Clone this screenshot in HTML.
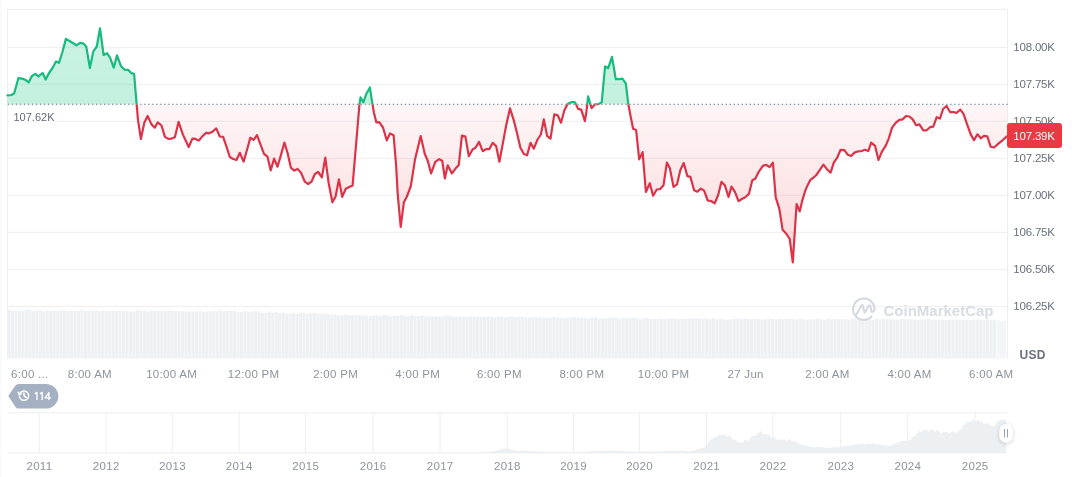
<!DOCTYPE html>
<html><head><meta charset="utf-8"><style>
html,body{margin:0;padding:0;background:#fff;width:1072px;height:477px;overflow:hidden}
svg{display:block;will-change:transform}
text{font-family:"Liberation Sans",sans-serif}
</style></head><body>
<svg width="1072" height="477" viewBox="0 0 1072 477">
<defs>
<clipPath id="above"><rect x="0" y="0" width="1072" height="104.4"/></clipPath>
<clipPath id="below"><rect x="0" y="104.4" width="1072" height="372.6"/></clipPath>
<linearGradient id="gfill" x1="0" y1="28" x2="0" y2="104.4" gradientUnits="userSpaceOnUse">
<stop offset="0" stop-color="#16c784" stop-opacity="0.22"/>
<stop offset="1" stop-color="#16c784" stop-opacity="0.26"/>
</linearGradient>
<linearGradient id="rfill" x1="0" y1="104.4" x2="0" y2="263" gradientUnits="userSpaceOnUse">
<stop offset="0" stop-color="#ea3943" stop-opacity="0.045"/>
<stop offset="1" stop-color="#ea3943" stop-opacity="0.2"/>
</linearGradient>
<filter id="sh" x="-50%" y="-50%" width="200%" height="200%"><feDropShadow dx="0" dy="1" stdDeviation="2" flood-color="#000" flood-opacity="0.2"/></filter>
</defs>

<line x1="1" y1="0" x2="1" y2="477" stroke="#f6f7f9" stroke-width="1"/>
<line x1="7.5" y1="9.4" x2="1007.5" y2="9.4" stroke="#eeeeef" stroke-width="1"/>
<line x1="7.5" y1="47.3" x2="1007.5" y2="47.3" stroke="#eeeeef" stroke-width="1"/>
<line x1="7.5" y1="84.3" x2="1007.5" y2="84.3" stroke="#eeeeef" stroke-width="1"/>
<line x1="7.5" y1="121.3" x2="1007.5" y2="121.3" stroke="#eeeeef" stroke-width="1"/>
<line x1="7.5" y1="158.3" x2="1007.5" y2="158.3" stroke="#eeeeef" stroke-width="1"/>
<line x1="7.5" y1="195.3" x2="1007.5" y2="195.3" stroke="#eeeeef" stroke-width="1"/>
<line x1="7.5" y1="232.3" x2="1007.5" y2="232.3" stroke="#eeeeef" stroke-width="1"/>
<line x1="7.5" y1="269.3" x2="1007.5" y2="269.3" stroke="#eeeeef" stroke-width="1"/>
<line x1="7.5" y1="306.3" x2="1007.5" y2="306.3" stroke="#eeeeef" stroke-width="1"/>
<line x1="7.5" y1="9.4" x2="7.5" y2="358.4" stroke="#eeeeef" stroke-width="1"/>
<line x1="1007.5" y1="9.4" x2="1007.5" y2="358.4" stroke="#eeeeef" stroke-width="1"/>
<path d="M7.50,310.1h3.12V358.4h-3.12ZM10.97,310.6h3.12V358.4h-3.12ZM14.44,310.3h3.12V358.4h-3.12ZM17.91,310.7h3.12V358.4h-3.12ZM21.38,310.7h3.12V358.4h-3.12ZM24.85,309.9h3.12V358.4h-3.12ZM28.32,309.9h3.12V358.4h-3.12ZM31.79,311.0h3.12V358.4h-3.12ZM35.26,310.2h3.12V358.4h-3.12ZM38.73,310.2h3.12V358.4h-3.12ZM42.20,311.3h3.12V358.4h-3.12ZM45.67,310.5h3.12V358.4h-3.12ZM49.14,311.1h3.12V358.4h-3.12ZM52.61,310.6h3.12V358.4h-3.12ZM56.08,310.8h3.12V358.4h-3.12ZM59.55,310.1h3.12V358.4h-3.12ZM63.02,310.8h3.12V358.4h-3.12ZM66.49,311.1h3.12V358.4h-3.12ZM69.96,310.7h3.12V358.4h-3.12ZM73.43,311.0h3.12V358.4h-3.12ZM76.90,310.9h3.12V358.4h-3.12ZM80.37,310.1h3.12V358.4h-3.12ZM83.84,311.0h3.12V358.4h-3.12ZM87.31,310.8h3.12V358.4h-3.12ZM90.78,310.4h3.12V358.4h-3.12ZM94.25,310.0h3.12V358.4h-3.12ZM97.72,311.2h3.12V358.4h-3.12ZM101.19,310.7h3.12V358.4h-3.12ZM104.66,311.0h3.12V358.4h-3.12ZM108.13,311.3h3.12V358.4h-3.12ZM111.60,311.0h3.12V358.4h-3.12ZM115.07,311.3h3.12V358.4h-3.12ZM118.54,310.6h3.12V358.4h-3.12ZM122.01,311.2h3.12V358.4h-3.12ZM125.48,310.7h3.12V358.4h-3.12ZM128.95,311.4h3.12V358.4h-3.12ZM132.42,311.3h3.12V358.4h-3.12ZM135.89,310.2h3.12V358.4h-3.12ZM139.36,310.3h3.12V358.4h-3.12ZM142.83,310.4h3.12V358.4h-3.12ZM146.30,311.5h3.12V358.4h-3.12ZM149.77,310.7h3.12V358.4h-3.12ZM153.24,311.0h3.12V358.4h-3.12ZM156.71,310.6h3.12V358.4h-3.12ZM160.18,310.9h3.12V358.4h-3.12ZM163.65,310.7h3.12V358.4h-3.12ZM167.12,310.6h3.12V358.4h-3.12ZM170.59,311.0h3.12V358.4h-3.12ZM174.06,311.0h3.12V358.4h-3.12ZM177.53,311.4h3.12V358.4h-3.12ZM181.00,311.1h3.12V358.4h-3.12ZM184.47,311.5h3.12V358.4h-3.12ZM187.94,311.4h3.12V358.4h-3.12ZM191.41,311.6h3.12V358.4h-3.12ZM194.88,311.2h3.12V358.4h-3.12ZM198.35,310.5h3.12V358.4h-3.12ZM201.82,311.4h3.12V358.4h-3.12ZM205.29,311.6h3.12V358.4h-3.12ZM208.76,311.5h3.12V358.4h-3.12ZM212.23,311.1h3.12V358.4h-3.12ZM215.70,311.3h3.12V358.4h-3.12ZM219.17,310.6h3.12V358.4h-3.12ZM222.64,311.4h3.12V358.4h-3.12ZM226.11,311.1h3.12V358.4h-3.12ZM229.58,310.7h3.12V358.4h-3.12ZM233.05,310.5h3.12V358.4h-3.12ZM236.52,311.7h3.12V358.4h-3.12ZM239.99,312.0h3.12V358.4h-3.12ZM243.46,310.9h3.12V358.4h-3.12ZM246.93,312.0h3.12V358.4h-3.12ZM250.40,311.6h3.12V358.4h-3.12ZM253.87,311.3h3.12V358.4h-3.12ZM257.34,311.6h3.12V358.4h-3.12ZM260.81,312.4h3.12V358.4h-3.12ZM264.28,312.7h3.12V358.4h-3.12ZM267.75,311.6h3.12V358.4h-3.12ZM271.22,312.5h3.12V358.4h-3.12ZM274.69,311.9h3.12V358.4h-3.12ZM278.16,312.9h3.12V358.4h-3.12ZM281.63,312.5h3.12V358.4h-3.12ZM285.10,313.4h3.12V358.4h-3.12ZM288.57,313.6h3.12V358.4h-3.12ZM292.04,313.1h3.12V358.4h-3.12ZM295.51,313.9h3.12V358.4h-3.12ZM298.98,313.0h3.12V358.4h-3.12ZM302.45,312.8h3.12V358.4h-3.12ZM305.92,313.7h3.12V358.4h-3.12ZM309.39,313.0h3.12V358.4h-3.12ZM312.86,313.3h3.12V358.4h-3.12ZM316.33,313.7h3.12V358.4h-3.12ZM319.80,314.1h3.12V358.4h-3.12ZM323.27,313.6h3.12V358.4h-3.12ZM326.74,313.6h3.12V358.4h-3.12ZM330.21,314.9h3.12V358.4h-3.12ZM333.68,314.2h3.12V358.4h-3.12ZM337.15,315.2h3.12V358.4h-3.12ZM340.62,315.2h3.12V358.4h-3.12ZM344.09,314.6h3.12V358.4h-3.12ZM347.56,314.9h3.12V358.4h-3.12ZM351.03,315.0h3.12V358.4h-3.12ZM354.50,315.3h3.12V358.4h-3.12ZM357.97,315.2h3.12V358.4h-3.12ZM361.44,315.2h3.12V358.4h-3.12ZM364.91,315.4h3.12V358.4h-3.12ZM368.38,315.9h3.12V358.4h-3.12ZM371.85,315.3h3.12V358.4h-3.12ZM375.32,315.2h3.12V358.4h-3.12ZM378.79,315.7h3.12V358.4h-3.12ZM382.26,315.1h3.12V358.4h-3.12ZM385.73,315.2h3.12V358.4h-3.12ZM389.20,316.2h3.12V358.4h-3.12ZM392.67,315.6h3.12V358.4h-3.12ZM396.14,315.7h3.12V358.4h-3.12ZM399.61,315.0h3.12V358.4h-3.12ZM403.08,315.6h3.12V358.4h-3.12ZM406.55,315.9h3.12V358.4h-3.12ZM410.02,315.1h3.12V358.4h-3.12ZM413.49,316.0h3.12V358.4h-3.12ZM416.96,316.1h3.12V358.4h-3.12ZM420.43,315.3h3.12V358.4h-3.12ZM423.90,316.2h3.12V358.4h-3.12ZM427.37,316.0h3.12V358.4h-3.12ZM430.84,316.3h3.12V358.4h-3.12ZM434.31,315.9h3.12V358.4h-3.12ZM437.78,316.4h3.12V358.4h-3.12ZM441.25,316.5h3.12V358.4h-3.12ZM444.72,315.6h3.12V358.4h-3.12ZM448.19,315.7h3.12V358.4h-3.12ZM451.66,316.6h3.12V358.4h-3.12ZM455.13,317.0h3.12V358.4h-3.12ZM458.60,316.1h3.12V358.4h-3.12ZM462.07,316.4h3.12V358.4h-3.12ZM465.54,316.7h3.12V358.4h-3.12ZM469.01,316.3h3.12V358.4h-3.12ZM472.48,316.4h3.12V358.4h-3.12ZM475.95,316.4h3.12V358.4h-3.12ZM479.42,316.5h3.12V358.4h-3.12ZM482.89,316.9h3.12V358.4h-3.12ZM486.36,316.5h3.12V358.4h-3.12ZM489.83,316.7h3.12V358.4h-3.12ZM493.30,317.3h3.12V358.4h-3.12ZM496.77,316.3h3.12V358.4h-3.12ZM500.24,317.1h3.12V358.4h-3.12ZM503.71,317.4h3.12V358.4h-3.12ZM507.18,316.8h3.12V358.4h-3.12ZM510.65,316.7h3.12V358.4h-3.12ZM514.12,317.6h3.12V358.4h-3.12ZM517.59,316.8h3.12V358.4h-3.12ZM521.06,316.8h3.12V358.4h-3.12ZM524.53,317.2h3.12V358.4h-3.12ZM528.00,317.6h3.12V358.4h-3.12ZM531.47,316.8h3.12V358.4h-3.12ZM534.94,317.2h3.12V358.4h-3.12ZM538.41,317.2h3.12V358.4h-3.12ZM541.88,318.0h3.12V358.4h-3.12ZM545.35,317.5h3.12V358.4h-3.12ZM548.82,318.1h3.12V358.4h-3.12ZM552.29,317.1h3.12V358.4h-3.12ZM555.76,317.4h3.12V358.4h-3.12ZM559.23,317.9h3.12V358.4h-3.12ZM562.70,318.2h3.12V358.4h-3.12ZM566.17,317.6h3.12V358.4h-3.12ZM569.64,317.4h3.12V358.4h-3.12ZM573.11,317.2h3.12V358.4h-3.12ZM576.58,317.8h3.12V358.4h-3.12ZM580.05,317.4h3.12V358.4h-3.12ZM583.52,318.3h3.12V358.4h-3.12ZM586.99,318.4h3.12V358.4h-3.12ZM590.46,317.5h3.12V358.4h-3.12ZM593.93,317.6h3.12V358.4h-3.12ZM597.40,318.4h3.12V358.4h-3.12ZM600.87,318.2h3.12V358.4h-3.12ZM604.34,318.5h3.12V358.4h-3.12ZM607.81,317.8h3.12V358.4h-3.12ZM611.28,317.6h3.12V358.4h-3.12ZM614.75,317.8h3.12V358.4h-3.12ZM618.22,318.5h3.12V358.4h-3.12ZM621.69,317.8h3.12V358.4h-3.12ZM625.16,318.0h3.12V358.4h-3.12ZM628.63,318.1h3.12V358.4h-3.12ZM632.10,318.1h3.12V358.4h-3.12ZM635.57,318.1h3.12V358.4h-3.12ZM639.04,318.9h3.12V358.4h-3.12ZM642.51,317.9h3.12V358.4h-3.12ZM645.98,317.7h3.12V358.4h-3.12ZM649.45,319.0h3.12V358.4h-3.12ZM652.92,318.9h3.12V358.4h-3.12ZM656.39,319.1h3.12V358.4h-3.12ZM659.86,318.4h3.12V358.4h-3.12ZM663.33,319.1h3.12V358.4h-3.12ZM666.80,319.1h3.12V358.4h-3.12ZM670.27,318.2h3.12V358.4h-3.12ZM673.74,318.9h3.12V358.4h-3.12ZM677.21,319.1h3.12V358.4h-3.12ZM680.68,318.9h3.12V358.4h-3.12ZM684.15,318.7h3.12V358.4h-3.12ZM687.62,318.4h3.12V358.4h-3.12ZM691.09,318.5h3.12V358.4h-3.12ZM694.56,318.4h3.12V358.4h-3.12ZM698.03,318.2h3.12V358.4h-3.12ZM701.50,318.9h3.12V358.4h-3.12ZM704.97,318.5h3.12V358.4h-3.12ZM708.44,319.3h3.12V358.4h-3.12ZM711.91,318.2h3.12V358.4h-3.12ZM715.38,319.4h3.12V358.4h-3.12ZM718.85,319.1h3.12V358.4h-3.12ZM722.32,319.5h3.12V358.4h-3.12ZM725.79,319.4h3.12V358.4h-3.12ZM729.26,319.5h3.12V358.4h-3.12ZM732.73,319.0h3.12V358.4h-3.12ZM736.20,318.2h3.12V358.4h-3.12ZM739.67,319.3h3.12V358.4h-3.12ZM743.14,318.5h3.12V358.4h-3.12ZM746.61,318.7h3.12V358.4h-3.12ZM750.08,319.2h3.12V358.4h-3.12ZM753.55,319.0h3.12V358.4h-3.12ZM757.02,318.9h3.12V358.4h-3.12ZM760.49,319.6h3.12V358.4h-3.12ZM763.96,319.2h3.12V358.4h-3.12ZM767.43,318.8h3.12V358.4h-3.12ZM770.90,318.7h3.12V358.4h-3.12ZM774.37,319.6h3.12V358.4h-3.12ZM777.84,319.0h3.12V358.4h-3.12ZM781.31,319.5h3.12V358.4h-3.12ZM784.78,318.9h3.12V358.4h-3.12ZM788.25,318.7h3.12V358.4h-3.12ZM791.72,319.2h3.12V358.4h-3.12ZM795.19,319.6h3.12V358.4h-3.12ZM798.66,318.7h3.12V358.4h-3.12ZM802.13,319.5h3.12V358.4h-3.12ZM805.60,319.7h3.12V358.4h-3.12ZM809.07,319.6h3.12V358.4h-3.12ZM812.54,319.6h3.12V358.4h-3.12ZM816.01,318.5h3.12V358.4h-3.12ZM819.48,319.4h3.12V358.4h-3.12ZM822.95,319.7h3.12V358.4h-3.12ZM826.42,318.6h3.12V358.4h-3.12ZM829.89,318.9h3.12V358.4h-3.12ZM833.36,318.9h3.12V358.4h-3.12ZM836.83,319.3h3.12V358.4h-3.12ZM840.30,319.2h3.12V358.4h-3.12ZM843.77,319.2h3.12V358.4h-3.12ZM847.24,319.7h3.12V358.4h-3.12ZM850.71,318.6h3.12V358.4h-3.12ZM854.18,318.7h3.12V358.4h-3.12ZM857.65,318.8h3.12V358.4h-3.12ZM861.12,318.8h3.12V358.4h-3.12ZM864.59,318.7h3.12V358.4h-3.12ZM868.06,320.0h3.12V358.4h-3.12ZM871.53,319.9h3.12V358.4h-3.12ZM875.00,318.8h3.12V358.4h-3.12ZM878.47,319.4h3.12V358.4h-3.12ZM881.94,319.1h3.12V358.4h-3.12ZM885.41,319.2h3.12V358.4h-3.12ZM888.88,319.2h3.12V358.4h-3.12ZM892.35,319.6h3.12V358.4h-3.12ZM895.82,319.6h3.12V358.4h-3.12ZM899.29,319.3h3.12V358.4h-3.12ZM902.76,319.0h3.12V358.4h-3.12ZM906.23,319.2h3.12V358.4h-3.12ZM909.70,319.0h3.12V358.4h-3.12ZM913.17,319.6h3.12V358.4h-3.12ZM916.64,319.8h3.12V358.4h-3.12ZM920.11,319.4h3.12V358.4h-3.12ZM923.58,319.0h3.12V358.4h-3.12ZM927.05,319.1h3.12V358.4h-3.12ZM930.52,319.4h3.12V358.4h-3.12ZM933.99,319.7h3.12V358.4h-3.12ZM937.46,320.0h3.12V358.4h-3.12ZM940.93,319.4h3.12V358.4h-3.12ZM944.40,320.0h3.12V358.4h-3.12ZM947.87,319.8h3.12V358.4h-3.12ZM951.34,319.5h3.12V358.4h-3.12ZM954.81,319.5h3.12V358.4h-3.12ZM958.28,319.7h3.12V358.4h-3.12ZM961.75,320.0h3.12V358.4h-3.12ZM965.22,319.6h3.12V358.4h-3.12ZM968.69,320.0h3.12V358.4h-3.12ZM972.16,319.7h3.12V358.4h-3.12ZM975.63,319.4h3.12V358.4h-3.12ZM979.10,319.8h3.12V358.4h-3.12ZM982.57,320.0h3.12V358.4h-3.12ZM986.04,319.2h3.12V358.4h-3.12ZM989.51,319.7h3.12V358.4h-3.12ZM992.98,319.7h3.12V358.4h-3.12Z" fill="#eef1f4"/>
<path d="M997,320.5h9V358.4h-9Z" fill="#f3f5f8"/>
<path d="M7.5,104.4 L7.5,95.4 L11.5,95.0 L14.2,93.3 L18.4,78.2 L22.0,78.6 L25.1,79.7 L28.7,82.4 L31.8,76.1 L35.2,73.8 L38.5,76.3 L42.6,73.0 L45.7,79.5 L49.0,73.0 L52.5,68.0 L56.0,61.5 L58.9,62.8 L62.3,52.5 L65.9,38.9 L71.2,42.0 L76.5,45.3 L80.0,42.9 L83.7,43.6 L86.3,46.8 L89.9,68.0 L93.3,51.4 L96.8,46.5 L100.0,28.3 L103.6,55.0 L107.0,53.2 L110.2,57.8 L113.7,67.7 L117.0,55.4 L121.0,66.2 L124.6,69.6 L128.0,69.8 L131.2,73.1 L134.1,73.8 L136.6,103.8 L138.0,120.2 L140.9,139.0 L144.3,122.7 L147.6,116.0 L151.5,124.4 L154.8,127.7 L157.7,122.3 L161.5,125.5 L164.9,136.9 L168.2,138.9 L171.6,138.6 L174.9,137.3 L178.6,121.8 L182.8,134.4 L188.7,147.0 L192.4,138.6 L195.4,138.9 L198.8,140.6 L202.5,136.1 L206.3,132.7 L208.4,133.5 L212.5,131.8 L216.2,128.4 L219.8,136.5 L223.1,136.8 L226.5,146.6 L229.8,157.0 L233.2,159.0 L236.5,160.0 L239.9,152.8 L243.6,161.7 L246.9,150.3 L250.3,137.7 L253.6,139.9 L257.0,135.2 L260.7,145.2 L264.0,153.9 L267.4,156.6 L270.7,170.4 L274.1,158.6 L277.5,166.7 L280.8,155.6 L284.4,142.6 L287.5,152.7 L290.9,167.8 L294.3,170.6 L297.6,168.9 L301.0,172.8 L304.8,181.7 L308.2,184.0 L311.5,181.7 L314.9,174.0 L318.2,172.0 L321.9,177.3 L325.3,157.7 L328.6,182.9 L332.4,202.3 L335.6,196.5 L338.9,179.4 L342.2,196.9 L345.8,188.8 L349.2,187.0 L352.6,185.6 L359.5,103.9 L360.5,97.3 L363.3,102.3 L366.4,93.8 L369.9,87.5 L372.4,103.9 L373.9,112.7 L376.4,122.5 L379.2,122.1 L383.0,127.5 L386.8,140.4 L390.0,133.5 L393.6,135.3 L396.1,165.3 L397.7,194.2 L400.7,226.9 L403.9,202.2 L406.9,196.5 L410.8,186.1 L415.0,159.6 L420.7,136.1 L424.7,153.8 L427.7,160.7 L431.1,173.4 L435.3,161.9 L439.2,159.1 L442.2,160.7 L444.9,178.5 L447.7,165.3 L451.9,173.4 L455.3,168.8 L458.8,164.9 L461.9,135.6 L465.4,136.6 L468.8,156.2 L472.6,149.5 L475.5,147.8 L479.0,141.9 L482.7,151.2 L486.0,149.1 L489.4,149.1 L492.7,142.8 L496.1,146.1 L499.4,161.7 L502.8,143.6 L506.2,125.2 L510.0,108.4 L513.7,120.1 L517.1,133.5 L520.4,147.8 L523.8,154.0 L527.1,155.3 L530.5,142.8 L533.8,148.6 L537.5,139.5 L540.9,134.5 L543.8,119.4 L547.1,135.8 L550.5,138.7 L554.3,114.4 L557.7,115.2 L561.0,122.7 L564.4,110.2 L567.6,103.9 L570.2,102.6 L572.5,102.0 L574.6,102.0 L576.0,104.4 L578.1,108.9 L581.2,109.6 L584.9,121.2 L586.5,111.2 L588.1,96.3 L590.0,102.8 L591.7,108.1 L594.9,104.4 L598.5,104.1 L601.7,102.3 L605.1,66.4 L608.2,68.2 L612.0,56.9 L615.8,79.2 L618.6,79.2 L622.4,78.7 L625.8,83.3 L628.3,104.1 L630.8,117.3 L633.1,128.8 L636.1,130.0 L639.2,159.3 L642.6,152.1 L645.9,192.0 L649.8,183.3 L653.1,195.7 L656.8,189.5 L660.2,189.0 L663.5,185.3 L666.9,162.6 L669.9,168.5 L673.6,187.0 L677.0,184.4 L680.3,170.2 L683.7,163.1 L687.4,176.1 L690.4,176.9 L694.1,190.3 L697.4,191.7 L700.8,188.6 L704.1,190.6 L707.7,200.5 L711.4,201.2 L714.7,203.3 L718.1,195.3 L721.4,181.9 L724.8,185.2 L728.5,197.0 L731.5,186.6 L734.9,191.9 L738.5,201.2 L741.9,199.0 L745.3,197.3 L748.9,193.9 L752.3,180.2 L755.3,178.8 L758.7,171.8 L762.9,165.9 L766.2,164.8 L769.6,167.1 L772.9,162.6 L775.7,197.3 L779.3,208.6 L782.6,229.8 L786.5,234.0 L789.7,239.0 L792.8,262.4 L796.6,204.0 L799.7,211.4 L802.3,200.6 L804.9,191.7 L807.5,185.4 L810.2,180.2 L812.8,178.1 L815.9,175.5 L819.2,170.8 L823.4,164.6 L826.9,169.2 L830.6,172.6 L833.8,162.7 L837.2,157.7 L840.6,149.8 L844.4,150.1 L847.8,154.8 L851.1,156.0 L854.5,152.6 L858.3,151.3 L861.7,151.0 L865.0,149.8 L868.4,151.0 L871.2,142.6 L875.1,145.9 L878.5,159.9 L881.8,151.8 L885.9,145.3 L888.7,138.6 L892.1,127.7 L895.9,122.7 L899.3,119.9 L902.6,119.4 L906.0,116.0 L909.4,116.5 L912.7,119.4 L916.1,125.2 L919.4,124.4 L923.3,130.3 L926.6,130.3 L930.0,127.2 L933.3,126.6 L936.7,117.2 L940.0,118.5 L943.1,109.0 L946.5,106.0 L950.2,112.2 L953.6,112.2 L956.7,112.8 L960.3,109.6 L963.5,113.8 L967.1,124.4 L970.8,134.6 L974.0,140.2 L977.4,134.3 L980.8,138.3 L984.0,135.8 L987.3,136.4 L990.6,146.7 L994.0,147.5 L998.7,143.4 L1003.1,139.8 L1007.2,136.1 L1007.2,104.4 Z" fill="url(#gfill)" clip-path="url(#above)"/>
<path d="M7.5,104.4 L7.5,95.4 L11.5,95.0 L14.2,93.3 L18.4,78.2 L22.0,78.6 L25.1,79.7 L28.7,82.4 L31.8,76.1 L35.2,73.8 L38.5,76.3 L42.6,73.0 L45.7,79.5 L49.0,73.0 L52.5,68.0 L56.0,61.5 L58.9,62.8 L62.3,52.5 L65.9,38.9 L71.2,42.0 L76.5,45.3 L80.0,42.9 L83.7,43.6 L86.3,46.8 L89.9,68.0 L93.3,51.4 L96.8,46.5 L100.0,28.3 L103.6,55.0 L107.0,53.2 L110.2,57.8 L113.7,67.7 L117.0,55.4 L121.0,66.2 L124.6,69.6 L128.0,69.8 L131.2,73.1 L134.1,73.8 L136.6,103.8 L138.0,120.2 L140.9,139.0 L144.3,122.7 L147.6,116.0 L151.5,124.4 L154.8,127.7 L157.7,122.3 L161.5,125.5 L164.9,136.9 L168.2,138.9 L171.6,138.6 L174.9,137.3 L178.6,121.8 L182.8,134.4 L188.7,147.0 L192.4,138.6 L195.4,138.9 L198.8,140.6 L202.5,136.1 L206.3,132.7 L208.4,133.5 L212.5,131.8 L216.2,128.4 L219.8,136.5 L223.1,136.8 L226.5,146.6 L229.8,157.0 L233.2,159.0 L236.5,160.0 L239.9,152.8 L243.6,161.7 L246.9,150.3 L250.3,137.7 L253.6,139.9 L257.0,135.2 L260.7,145.2 L264.0,153.9 L267.4,156.6 L270.7,170.4 L274.1,158.6 L277.5,166.7 L280.8,155.6 L284.4,142.6 L287.5,152.7 L290.9,167.8 L294.3,170.6 L297.6,168.9 L301.0,172.8 L304.8,181.7 L308.2,184.0 L311.5,181.7 L314.9,174.0 L318.2,172.0 L321.9,177.3 L325.3,157.7 L328.6,182.9 L332.4,202.3 L335.6,196.5 L338.9,179.4 L342.2,196.9 L345.8,188.8 L349.2,187.0 L352.6,185.6 L359.5,103.9 L360.5,97.3 L363.3,102.3 L366.4,93.8 L369.9,87.5 L372.4,103.9 L373.9,112.7 L376.4,122.5 L379.2,122.1 L383.0,127.5 L386.8,140.4 L390.0,133.5 L393.6,135.3 L396.1,165.3 L397.7,194.2 L400.7,226.9 L403.9,202.2 L406.9,196.5 L410.8,186.1 L415.0,159.6 L420.7,136.1 L424.7,153.8 L427.7,160.7 L431.1,173.4 L435.3,161.9 L439.2,159.1 L442.2,160.7 L444.9,178.5 L447.7,165.3 L451.9,173.4 L455.3,168.8 L458.8,164.9 L461.9,135.6 L465.4,136.6 L468.8,156.2 L472.6,149.5 L475.5,147.8 L479.0,141.9 L482.7,151.2 L486.0,149.1 L489.4,149.1 L492.7,142.8 L496.1,146.1 L499.4,161.7 L502.8,143.6 L506.2,125.2 L510.0,108.4 L513.7,120.1 L517.1,133.5 L520.4,147.8 L523.8,154.0 L527.1,155.3 L530.5,142.8 L533.8,148.6 L537.5,139.5 L540.9,134.5 L543.8,119.4 L547.1,135.8 L550.5,138.7 L554.3,114.4 L557.7,115.2 L561.0,122.7 L564.4,110.2 L567.6,103.9 L570.2,102.6 L572.5,102.0 L574.6,102.0 L576.0,104.4 L578.1,108.9 L581.2,109.6 L584.9,121.2 L586.5,111.2 L588.1,96.3 L590.0,102.8 L591.7,108.1 L594.9,104.4 L598.5,104.1 L601.7,102.3 L605.1,66.4 L608.2,68.2 L612.0,56.9 L615.8,79.2 L618.6,79.2 L622.4,78.7 L625.8,83.3 L628.3,104.1 L630.8,117.3 L633.1,128.8 L636.1,130.0 L639.2,159.3 L642.6,152.1 L645.9,192.0 L649.8,183.3 L653.1,195.7 L656.8,189.5 L660.2,189.0 L663.5,185.3 L666.9,162.6 L669.9,168.5 L673.6,187.0 L677.0,184.4 L680.3,170.2 L683.7,163.1 L687.4,176.1 L690.4,176.9 L694.1,190.3 L697.4,191.7 L700.8,188.6 L704.1,190.6 L707.7,200.5 L711.4,201.2 L714.7,203.3 L718.1,195.3 L721.4,181.9 L724.8,185.2 L728.5,197.0 L731.5,186.6 L734.9,191.9 L738.5,201.2 L741.9,199.0 L745.3,197.3 L748.9,193.9 L752.3,180.2 L755.3,178.8 L758.7,171.8 L762.9,165.9 L766.2,164.8 L769.6,167.1 L772.9,162.6 L775.7,197.3 L779.3,208.6 L782.6,229.8 L786.5,234.0 L789.7,239.0 L792.8,262.4 L796.6,204.0 L799.7,211.4 L802.3,200.6 L804.9,191.7 L807.5,185.4 L810.2,180.2 L812.8,178.1 L815.9,175.5 L819.2,170.8 L823.4,164.6 L826.9,169.2 L830.6,172.6 L833.8,162.7 L837.2,157.7 L840.6,149.8 L844.4,150.1 L847.8,154.8 L851.1,156.0 L854.5,152.6 L858.3,151.3 L861.7,151.0 L865.0,149.8 L868.4,151.0 L871.2,142.6 L875.1,145.9 L878.5,159.9 L881.8,151.8 L885.9,145.3 L888.7,138.6 L892.1,127.7 L895.9,122.7 L899.3,119.9 L902.6,119.4 L906.0,116.0 L909.4,116.5 L912.7,119.4 L916.1,125.2 L919.4,124.4 L923.3,130.3 L926.6,130.3 L930.0,127.2 L933.3,126.6 L936.7,117.2 L940.0,118.5 L943.1,109.0 L946.5,106.0 L950.2,112.2 L953.6,112.2 L956.7,112.8 L960.3,109.6 L963.5,113.8 L967.1,124.4 L970.8,134.6 L974.0,140.2 L977.4,134.3 L980.8,138.3 L984.0,135.8 L987.3,136.4 L990.6,146.7 L994.0,147.5 L998.7,143.4 L1003.1,139.8 L1007.2,136.1 L1007.2,104.4 Z" fill="url(#rfill)" clip-path="url(#below)"/>
<line x1="8.5" y1="104.4" x2="1007.5" y2="104.4" stroke="#98a0b0" stroke-width="1.6" stroke-linecap="round" stroke-dasharray="0.01 4"/>
<path d="M7.5,95.4 L11.5,95.0 L14.2,93.3 L18.4,78.2 L22.0,78.6 L25.1,79.7 L28.7,82.4 L31.8,76.1 L35.2,73.8 L38.5,76.3 L42.6,73.0 L45.7,79.5 L49.0,73.0 L52.5,68.0 L56.0,61.5 L58.9,62.8 L62.3,52.5 L65.9,38.9 L71.2,42.0 L76.5,45.3 L80.0,42.9 L83.7,43.6 L86.3,46.8 L89.9,68.0 L93.3,51.4 L96.8,46.5 L100.0,28.3 L103.6,55.0 L107.0,53.2 L110.2,57.8 L113.7,67.7 L117.0,55.4 L121.0,66.2 L124.6,69.6 L128.0,69.8 L131.2,73.1 L134.1,73.8 L136.6,103.8 L138.0,120.2 L140.9,139.0 L144.3,122.7 L147.6,116.0 L151.5,124.4 L154.8,127.7 L157.7,122.3 L161.5,125.5 L164.9,136.9 L168.2,138.9 L171.6,138.6 L174.9,137.3 L178.6,121.8 L182.8,134.4 L188.7,147.0 L192.4,138.6 L195.4,138.9 L198.8,140.6 L202.5,136.1 L206.3,132.7 L208.4,133.5 L212.5,131.8 L216.2,128.4 L219.8,136.5 L223.1,136.8 L226.5,146.6 L229.8,157.0 L233.2,159.0 L236.5,160.0 L239.9,152.8 L243.6,161.7 L246.9,150.3 L250.3,137.7 L253.6,139.9 L257.0,135.2 L260.7,145.2 L264.0,153.9 L267.4,156.6 L270.7,170.4 L274.1,158.6 L277.5,166.7 L280.8,155.6 L284.4,142.6 L287.5,152.7 L290.9,167.8 L294.3,170.6 L297.6,168.9 L301.0,172.8 L304.8,181.7 L308.2,184.0 L311.5,181.7 L314.9,174.0 L318.2,172.0 L321.9,177.3 L325.3,157.7 L328.6,182.9 L332.4,202.3 L335.6,196.5 L338.9,179.4 L342.2,196.9 L345.8,188.8 L349.2,187.0 L352.6,185.6 L359.5,103.9 L360.5,97.3 L363.3,102.3 L366.4,93.8 L369.9,87.5 L372.4,103.9 L373.9,112.7 L376.4,122.5 L379.2,122.1 L383.0,127.5 L386.8,140.4 L390.0,133.5 L393.6,135.3 L396.1,165.3 L397.7,194.2 L400.7,226.9 L403.9,202.2 L406.9,196.5 L410.8,186.1 L415.0,159.6 L420.7,136.1 L424.7,153.8 L427.7,160.7 L431.1,173.4 L435.3,161.9 L439.2,159.1 L442.2,160.7 L444.9,178.5 L447.7,165.3 L451.9,173.4 L455.3,168.8 L458.8,164.9 L461.9,135.6 L465.4,136.6 L468.8,156.2 L472.6,149.5 L475.5,147.8 L479.0,141.9 L482.7,151.2 L486.0,149.1 L489.4,149.1 L492.7,142.8 L496.1,146.1 L499.4,161.7 L502.8,143.6 L506.2,125.2 L510.0,108.4 L513.7,120.1 L517.1,133.5 L520.4,147.8 L523.8,154.0 L527.1,155.3 L530.5,142.8 L533.8,148.6 L537.5,139.5 L540.9,134.5 L543.8,119.4 L547.1,135.8 L550.5,138.7 L554.3,114.4 L557.7,115.2 L561.0,122.7 L564.4,110.2 L567.6,103.9 L570.2,102.6 L572.5,102.0 L574.6,102.0 L576.0,104.4 L578.1,108.9 L581.2,109.6 L584.9,121.2 L586.5,111.2 L588.1,96.3 L590.0,102.8 L591.7,108.1 L594.9,104.4 L598.5,104.1 L601.7,102.3 L605.1,66.4 L608.2,68.2 L612.0,56.9 L615.8,79.2 L618.6,79.2 L622.4,78.7 L625.8,83.3 L628.3,104.1 L630.8,117.3 L633.1,128.8 L636.1,130.0 L639.2,159.3 L642.6,152.1 L645.9,192.0 L649.8,183.3 L653.1,195.7 L656.8,189.5 L660.2,189.0 L663.5,185.3 L666.9,162.6 L669.9,168.5 L673.6,187.0 L677.0,184.4 L680.3,170.2 L683.7,163.1 L687.4,176.1 L690.4,176.9 L694.1,190.3 L697.4,191.7 L700.8,188.6 L704.1,190.6 L707.7,200.5 L711.4,201.2 L714.7,203.3 L718.1,195.3 L721.4,181.9 L724.8,185.2 L728.5,197.0 L731.5,186.6 L734.9,191.9 L738.5,201.2 L741.9,199.0 L745.3,197.3 L748.9,193.9 L752.3,180.2 L755.3,178.8 L758.7,171.8 L762.9,165.9 L766.2,164.8 L769.6,167.1 L772.9,162.6 L775.7,197.3 L779.3,208.6 L782.6,229.8 L786.5,234.0 L789.7,239.0 L792.8,262.4 L796.6,204.0 L799.7,211.4 L802.3,200.6 L804.9,191.7 L807.5,185.4 L810.2,180.2 L812.8,178.1 L815.9,175.5 L819.2,170.8 L823.4,164.6 L826.9,169.2 L830.6,172.6 L833.8,162.7 L837.2,157.7 L840.6,149.8 L844.4,150.1 L847.8,154.8 L851.1,156.0 L854.5,152.6 L858.3,151.3 L861.7,151.0 L865.0,149.8 L868.4,151.0 L871.2,142.6 L875.1,145.9 L878.5,159.9 L881.8,151.8 L885.9,145.3 L888.7,138.6 L892.1,127.7 L895.9,122.7 L899.3,119.9 L902.6,119.4 L906.0,116.0 L909.4,116.5 L912.7,119.4 L916.1,125.2 L919.4,124.4 L923.3,130.3 L926.6,130.3 L930.0,127.2 L933.3,126.6 L936.7,117.2 L940.0,118.5 L943.1,109.0 L946.5,106.0 L950.2,112.2 L953.6,112.2 L956.7,112.8 L960.3,109.6 L963.5,113.8 L967.1,124.4 L970.8,134.6 L974.0,140.2 L977.4,134.3 L980.8,138.3 L984.0,135.8 L987.3,136.4 L990.6,146.7 L994.0,147.5 L998.7,143.4 L1003.1,139.8 L1007.2,136.1" fill="none" stroke="#17bb7d" stroke-width="2.2" stroke-linejoin="round" stroke-linecap="round" clip-path="url(#above)"/>
<path d="M7.5,95.4 L11.5,95.0 L14.2,93.3 L18.4,78.2 L22.0,78.6 L25.1,79.7 L28.7,82.4 L31.8,76.1 L35.2,73.8 L38.5,76.3 L42.6,73.0 L45.7,79.5 L49.0,73.0 L52.5,68.0 L56.0,61.5 L58.9,62.8 L62.3,52.5 L65.9,38.9 L71.2,42.0 L76.5,45.3 L80.0,42.9 L83.7,43.6 L86.3,46.8 L89.9,68.0 L93.3,51.4 L96.8,46.5 L100.0,28.3 L103.6,55.0 L107.0,53.2 L110.2,57.8 L113.7,67.7 L117.0,55.4 L121.0,66.2 L124.6,69.6 L128.0,69.8 L131.2,73.1 L134.1,73.8 L136.6,103.8 L138.0,120.2 L140.9,139.0 L144.3,122.7 L147.6,116.0 L151.5,124.4 L154.8,127.7 L157.7,122.3 L161.5,125.5 L164.9,136.9 L168.2,138.9 L171.6,138.6 L174.9,137.3 L178.6,121.8 L182.8,134.4 L188.7,147.0 L192.4,138.6 L195.4,138.9 L198.8,140.6 L202.5,136.1 L206.3,132.7 L208.4,133.5 L212.5,131.8 L216.2,128.4 L219.8,136.5 L223.1,136.8 L226.5,146.6 L229.8,157.0 L233.2,159.0 L236.5,160.0 L239.9,152.8 L243.6,161.7 L246.9,150.3 L250.3,137.7 L253.6,139.9 L257.0,135.2 L260.7,145.2 L264.0,153.9 L267.4,156.6 L270.7,170.4 L274.1,158.6 L277.5,166.7 L280.8,155.6 L284.4,142.6 L287.5,152.7 L290.9,167.8 L294.3,170.6 L297.6,168.9 L301.0,172.8 L304.8,181.7 L308.2,184.0 L311.5,181.7 L314.9,174.0 L318.2,172.0 L321.9,177.3 L325.3,157.7 L328.6,182.9 L332.4,202.3 L335.6,196.5 L338.9,179.4 L342.2,196.9 L345.8,188.8 L349.2,187.0 L352.6,185.6 L359.5,103.9 L360.5,97.3 L363.3,102.3 L366.4,93.8 L369.9,87.5 L372.4,103.9 L373.9,112.7 L376.4,122.5 L379.2,122.1 L383.0,127.5 L386.8,140.4 L390.0,133.5 L393.6,135.3 L396.1,165.3 L397.7,194.2 L400.7,226.9 L403.9,202.2 L406.9,196.5 L410.8,186.1 L415.0,159.6 L420.7,136.1 L424.7,153.8 L427.7,160.7 L431.1,173.4 L435.3,161.9 L439.2,159.1 L442.2,160.7 L444.9,178.5 L447.7,165.3 L451.9,173.4 L455.3,168.8 L458.8,164.9 L461.9,135.6 L465.4,136.6 L468.8,156.2 L472.6,149.5 L475.5,147.8 L479.0,141.9 L482.7,151.2 L486.0,149.1 L489.4,149.1 L492.7,142.8 L496.1,146.1 L499.4,161.7 L502.8,143.6 L506.2,125.2 L510.0,108.4 L513.7,120.1 L517.1,133.5 L520.4,147.8 L523.8,154.0 L527.1,155.3 L530.5,142.8 L533.8,148.6 L537.5,139.5 L540.9,134.5 L543.8,119.4 L547.1,135.8 L550.5,138.7 L554.3,114.4 L557.7,115.2 L561.0,122.7 L564.4,110.2 L567.6,103.9 L570.2,102.6 L572.5,102.0 L574.6,102.0 L576.0,104.4 L578.1,108.9 L581.2,109.6 L584.9,121.2 L586.5,111.2 L588.1,96.3 L590.0,102.8 L591.7,108.1 L594.9,104.4 L598.5,104.1 L601.7,102.3 L605.1,66.4 L608.2,68.2 L612.0,56.9 L615.8,79.2 L618.6,79.2 L622.4,78.7 L625.8,83.3 L628.3,104.1 L630.8,117.3 L633.1,128.8 L636.1,130.0 L639.2,159.3 L642.6,152.1 L645.9,192.0 L649.8,183.3 L653.1,195.7 L656.8,189.5 L660.2,189.0 L663.5,185.3 L666.9,162.6 L669.9,168.5 L673.6,187.0 L677.0,184.4 L680.3,170.2 L683.7,163.1 L687.4,176.1 L690.4,176.9 L694.1,190.3 L697.4,191.7 L700.8,188.6 L704.1,190.6 L707.7,200.5 L711.4,201.2 L714.7,203.3 L718.1,195.3 L721.4,181.9 L724.8,185.2 L728.5,197.0 L731.5,186.6 L734.9,191.9 L738.5,201.2 L741.9,199.0 L745.3,197.3 L748.9,193.9 L752.3,180.2 L755.3,178.8 L758.7,171.8 L762.9,165.9 L766.2,164.8 L769.6,167.1 L772.9,162.6 L775.7,197.3 L779.3,208.6 L782.6,229.8 L786.5,234.0 L789.7,239.0 L792.8,262.4 L796.6,204.0 L799.7,211.4 L802.3,200.6 L804.9,191.7 L807.5,185.4 L810.2,180.2 L812.8,178.1 L815.9,175.5 L819.2,170.8 L823.4,164.6 L826.9,169.2 L830.6,172.6 L833.8,162.7 L837.2,157.7 L840.6,149.8 L844.4,150.1 L847.8,154.8 L851.1,156.0 L854.5,152.6 L858.3,151.3 L861.7,151.0 L865.0,149.8 L868.4,151.0 L871.2,142.6 L875.1,145.9 L878.5,159.9 L881.8,151.8 L885.9,145.3 L888.7,138.6 L892.1,127.7 L895.9,122.7 L899.3,119.9 L902.6,119.4 L906.0,116.0 L909.4,116.5 L912.7,119.4 L916.1,125.2 L919.4,124.4 L923.3,130.3 L926.6,130.3 L930.0,127.2 L933.3,126.6 L936.7,117.2 L940.0,118.5 L943.1,109.0 L946.5,106.0 L950.2,112.2 L953.6,112.2 L956.7,112.8 L960.3,109.6 L963.5,113.8 L967.1,124.4 L970.8,134.6 L974.0,140.2 L977.4,134.3 L980.8,138.3 L984.0,135.8 L987.3,136.4 L990.6,146.7 L994.0,147.5 L998.7,143.4 L1003.1,139.8 L1007.2,136.1" fill="none" stroke="#dd3349" stroke-width="2.2" stroke-linejoin="round" stroke-linecap="round" clip-path="url(#below)"/>
<rect x="9" y="107" width="48" height="19" fill="#fff" fill-opacity="0.85"/>
<text x="13.5" y="120.6" font-size="11" fill="#646b78">107.62K</text>
<text x="1013.3" y="51.3" font-size="11.5" letter-spacing="-0.2" fill="#6a707c">108.00K</text>
<text x="1013.3" y="88.3" font-size="11.5" letter-spacing="-0.2" fill="#6a707c">107.75K</text>
<text x="1013.3" y="125.3" font-size="11.5" letter-spacing="-0.2" fill="#6a707c">107.50K</text>
<text x="1013.3" y="162.3" font-size="11.5" letter-spacing="-0.2" fill="#6a707c">107.25K</text>
<text x="1013.3" y="199.3" font-size="11.5" letter-spacing="-0.2" fill="#6a707c">107.00K</text>
<text x="1013.3" y="236.3" font-size="11.5" letter-spacing="-0.2" fill="#6a707c">106.75K</text>
<text x="1013.3" y="273.3" font-size="11.5" letter-spacing="-0.2" fill="#6a707c">106.50K</text>
<text x="1013.3" y="310.3" font-size="11.5" letter-spacing="-0.2" fill="#6a707c">106.25K</text>
<rect x="1007" y="123" width="55" height="25" rx="3" fill="#ea3943"/>
<text x="1013.3" y="139.8" font-size="11.5" letter-spacing="-0.2" fill="#fff">107.39K</text>
<text x="1019.5" y="359" font-size="12" letter-spacing="0.3" font-weight="bold" fill="#6a707c">USD</text>
<g fill="none" stroke="#d5d9e0" stroke-width="2.1" stroke-linecap="round" stroke-linejoin="round">
<path d="M871.4,316.7 A10.7,10.7 0 1 1 874.5,309.6"/>
<path d="M856.3,314.6 L861.4,305.8 Q862.3,304.4 863,306 L864.1,311.6 Q864.6,313.2 865.4,311.8 L868.3,306.6 Q869.6,304.6 870.6,306.8 L871.2,310.6 Q872,313.6 874.5,310.2"/>
</g>
<text x="883.5" y="316" font-size="15" font-weight="bold" fill="#d9dce2">CoinMarketCap</text>
<text x="11" y="378" font-size="11.5" letter-spacing="0.3" fill="#8e939c">6:00 ...</text>
<text x="89.85000000000001" y="378" font-size="11.5" letter-spacing="0.3" fill="#8e939c" text-anchor="middle">8:00 AM</text>
<text x="171.65" y="378" font-size="11.5" letter-spacing="0.3" fill="#8e939c" text-anchor="middle">10:00 AM</text>
<text x="253.65" y="378" font-size="11.5" letter-spacing="0.3" fill="#8e939c" text-anchor="middle">12:00 PM</text>
<text x="335.65" y="378" font-size="11.5" letter-spacing="0.3" fill="#8e939c" text-anchor="middle">2:00 PM</text>
<text x="417.75" y="378" font-size="11.5" letter-spacing="0.3" fill="#8e939c" text-anchor="middle">4:00 PM</text>
<text x="499.34999999999997" y="378" font-size="11.5" letter-spacing="0.3" fill="#8e939c" text-anchor="middle">6:00 PM</text>
<text x="581.85" y="378" font-size="11.5" letter-spacing="0.3" fill="#8e939c" text-anchor="middle">8:00 PM</text>
<text x="663.65" y="378" font-size="11.5" letter-spacing="0.3" fill="#8e939c" text-anchor="middle">10:00 PM</text>
<text x="745.65" y="378" font-size="11.5" letter-spacing="0.3" fill="#8e939c" text-anchor="middle">27 Jun</text>
<text x="827.4499999999999" y="378" font-size="11.5" letter-spacing="0.3" fill="#8e939c" text-anchor="middle">2:00 AM</text>
<text x="909.55" y="378" font-size="11.5" letter-spacing="0.3" fill="#8e939c" text-anchor="middle">4:00 AM</text>
<text x="991.25" y="378" font-size="11.5" letter-spacing="0.3" fill="#8e939c" text-anchor="middle">6:00 AM</text>
<path d="M8.3,395.9 Q8.3,395.9 15.5,385.5 Q16.5,384 18.5,384 L46,384 A12.3,12.3 0 0 1 46,408.6 L18.5,408.6 Q16.5,408.6 15.5,407 Z" fill="#a6b0c3"/>
<g fill="none" stroke="#fff" stroke-width="1.5" stroke-linecap="round" stroke-linejoin="round">
<path d="M20.3,392.7 A4.7,4.7 0 1 1 19.3,396"/>
<path d="M18.3,392.2 L19.2,394.6 L21.5,393.9"/>
<path d="M23.9,393 L24.1,395.6 L26.1,397.4"/>
</g>
<g fill="none" stroke="#fff" stroke-width="1.35" stroke-linecap="butt" stroke-linejoin="round">
<path d="M34.8,393.9 L37,392.4 L37,399.9"/>
<path d="M40,393.9 L42.2,392.4 L42.2,399.9"/>
<path d="M48.9,399.9 L48.9,392.6 L44.9,397.9 L51,397.9"/>
</g>
<line x1="7.5" y1="412.8" x2="1007.5" y2="412.8" stroke="#eeeeef" stroke-width="1"/>
<line x1="7.5" y1="452.9" x2="1007.5" y2="452.9" stroke="#eeeeef" stroke-width="1"/>
<line x1="39.3" y1="412.8" x2="39.3" y2="452.9" stroke="#eeeeef" stroke-width="1"/>
<line x1="106.1" y1="412.8" x2="106.1" y2="452.9" stroke="#eeeeef" stroke-width="1"/>
<line x1="172.3" y1="412.8" x2="172.3" y2="452.9" stroke="#eeeeef" stroke-width="1"/>
<line x1="239.1" y1="412.8" x2="239.1" y2="452.9" stroke="#eeeeef" stroke-width="1"/>
<line x1="305.6" y1="412.8" x2="305.6" y2="452.9" stroke="#eeeeef" stroke-width="1"/>
<line x1="373" y1="412.8" x2="373" y2="452.9" stroke="#eeeeef" stroke-width="1"/>
<line x1="440" y1="412.8" x2="440" y2="452.9" stroke="#eeeeef" stroke-width="1"/>
<line x1="507.2" y1="412.8" x2="507.2" y2="452.9" stroke="#eeeeef" stroke-width="1"/>
<line x1="573.4" y1="412.8" x2="573.4" y2="452.9" stroke="#eeeeef" stroke-width="1"/>
<line x1="639.4" y1="412.8" x2="639.4" y2="452.9" stroke="#eeeeef" stroke-width="1"/>
<line x1="706.5" y1="412.8" x2="706.5" y2="452.9" stroke="#eeeeef" stroke-width="1"/>
<line x1="772.8" y1="412.8" x2="772.8" y2="452.9" stroke="#eeeeef" stroke-width="1"/>
<line x1="840.7" y1="412.8" x2="840.7" y2="452.9" stroke="#eeeeef" stroke-width="1"/>
<line x1="907.7" y1="412.8" x2="907.7" y2="452.9" stroke="#eeeeef" stroke-width="1"/>
<line x1="975" y1="412.8" x2="975" y2="452.9" stroke="#eeeeef" stroke-width="1"/>
<path d="M7.5,453.0 L7.5,453.0 L8.7,453.0 L9.9,453.0 L11.1,453.0 L12.3,453.0 L13.5,453.0 L14.7,453.0 L15.9,453.0 L17.1,453.0 L18.3,453.0 L19.5,453.0 L20.7,453.0 L21.9,453.0 L23.1,453.0 L24.3,453.0 L25.5,453.0 L26.7,453.0 L27.9,453.0 L29.1,453.0 L30.3,453.0 L31.5,453.0 L32.7,453.0 L34.0,453.0 L35.2,453.0 L36.4,453.0 L37.6,453.0 L38.8,453.0 L40.0,453.0 L41.2,453.0 L42.4,453.0 L43.6,453.0 L44.8,453.0 L46.0,453.0 L47.2,452.9 L48.4,452.9 L49.6,452.9 L50.8,452.9 L52.0,452.9 L53.2,452.9 L54.4,452.9 L55.6,452.9 L56.8,452.9 L58.0,452.9 L59.2,452.9 L60.4,452.9 L61.6,452.9 L62.8,452.9 L64.0,452.9 L65.2,452.9 L66.4,452.9 L67.6,452.9 L68.8,452.9 L70.0,452.9 L71.2,452.9 L72.4,452.9 L73.6,452.9 L74.8,452.9 L76.0,452.9 L77.2,452.9 L78.4,452.9 L79.6,452.9 L80.8,452.9 L82.0,452.9 L83.2,452.9 L84.4,452.9 L85.6,452.9 L86.9,452.9 L88.1,452.9 L89.3,452.9 L90.5,452.9 L91.7,452.9 L92.9,452.9 L94.1,452.9 L95.3,452.9 L96.5,452.9 L97.7,452.9 L98.9,452.9 L100.1,452.9 L101.3,452.9 L102.5,452.9 L103.7,452.9 L104.9,452.9 L106.1,452.9 L107.3,452.9 L108.5,452.9 L109.7,452.9 L110.9,452.9 L112.1,452.9 L113.3,452.9 L114.5,452.9 L115.7,452.9 L116.9,452.9 L118.1,452.9 L119.3,452.9 L120.5,452.9 L121.7,452.9 L122.9,452.9 L124.1,452.9 L125.3,452.9 L126.5,452.8 L127.7,452.8 L128.9,452.8 L130.1,452.8 L131.3,452.8 L132.5,452.8 L133.7,452.8 L134.9,452.8 L136.1,452.8 L137.3,452.8 L138.5,452.8 L139.8,452.8 L141.0,452.8 L142.2,452.8 L143.4,452.8 L144.6,452.8 L145.8,452.8 L147.0,452.8 L148.2,452.8 L149.4,452.8 L150.6,452.8 L151.8,452.8 L153.0,452.8 L154.2,452.8 L155.4,452.8 L156.6,452.8 L157.8,452.8 L159.0,452.8 L160.2,452.8 L161.4,452.8 L162.6,452.8 L163.8,452.8 L165.0,452.8 L166.2,452.8 L167.4,452.8 L168.6,452.8 L169.8,452.8 L171.0,452.8 L172.2,452.8 L173.4,452.8 L174.6,452.8 L175.8,452.8 L177.0,452.8 L178.2,452.8 L179.4,452.8 L180.6,452.8 L181.8,452.8 L183.0,452.8 L184.2,452.8 L185.4,452.8 L186.6,452.8 L187.8,452.8 L189.0,452.8 L190.2,452.8 L191.5,452.8 L192.7,452.8 L193.9,452.8 L195.1,452.8 L196.3,452.8 L197.5,452.8 L198.7,452.8 L199.9,452.8 L201.1,452.8 L202.3,452.8 L203.5,452.8 L204.7,452.7 L205.9,452.7 L207.1,452.7 L208.3,452.7 L209.5,452.7 L210.7,452.7 L211.9,452.7 L213.1,452.7 L214.3,452.7 L215.5,452.7 L216.7,452.7 L217.9,452.7 L219.1,452.7 L220.3,452.7 L221.5,452.7 L222.7,452.7 L223.9,452.7 L225.1,452.7 L226.3,452.7 L227.5,452.7 L228.7,452.7 L229.9,452.7 L231.1,452.7 L232.3,452.7 L233.5,452.7 L234.7,452.7 L235.9,452.7 L237.1,452.7 L238.3,452.7 L239.5,452.7 L240.7,452.7 L241.9,452.7 L243.1,452.7 L244.4,452.7 L245.6,452.7 L246.8,452.7 L248.0,452.7 L249.2,452.7 L250.4,452.7 L251.6,452.7 L252.8,452.7 L254.0,452.7 L255.2,452.7 L256.4,452.7 L257.6,452.7 L258.8,452.7 L260.0,452.7 L261.2,452.7 L262.4,452.7 L263.6,452.7 L264.8,452.7 L266.0,452.7 L267.2,452.7 L268.4,452.7 L269.6,452.7 L270.8,452.7 L272.0,452.7 L273.2,452.7 L274.4,452.7 L275.6,452.7 L276.8,452.7 L278.0,452.7 L279.2,452.7 L280.4,452.7 L281.6,452.7 L282.8,452.7 L284.0,452.6 L285.2,452.6 L286.4,452.6 L287.6,452.6 L288.8,452.6 L290.0,452.6 L291.2,452.6 L292.4,452.6 L293.6,452.6 L294.8,452.6 L296.0,452.6 L297.3,452.6 L298.5,452.6 L299.7,452.6 L300.9,452.6 L302.1,452.6 L303.3,452.6 L304.5,452.6 L305.7,452.6 L306.9,452.6 L308.1,452.6 L309.3,452.6 L310.5,452.6 L311.7,452.6 L312.9,452.6 L314.1,452.6 L315.3,452.6 L316.5,452.6 L317.7,452.6 L318.9,452.6 L320.1,452.6 L321.3,452.6 L322.5,452.6 L323.7,452.6 L324.9,452.6 L326.1,452.6 L327.3,452.6 L328.5,452.6 L329.7,452.6 L330.9,452.6 L332.1,452.6 L333.3,452.6 L334.5,452.6 L335.7,452.6 L336.9,452.6 L338.1,452.6 L339.3,452.6 L340.5,452.6 L341.7,452.6 L342.9,452.6 L344.1,452.6 L345.3,452.6 L346.5,452.6 L347.7,452.6 L349.0,452.6 L350.2,452.6 L351.4,452.6 L352.6,452.6 L353.8,452.6 L355.0,452.6 L356.2,452.6 L357.4,452.6 L358.6,452.6 L359.8,452.6 L361.0,452.6 L362.2,452.5 L363.4,452.5 L364.6,452.5 L365.8,452.5 L367.0,452.5 L368.2,452.5 L369.4,452.5 L370.6,452.5 L371.8,452.5 L373.0,452.5 L374.2,452.5 L375.4,452.5 L376.6,452.5 L377.8,452.5 L379.0,452.5 L380.2,452.5 L381.4,452.5 L382.6,452.5 L383.8,452.5 L385.0,452.5 L386.2,452.5 L387.4,452.5 L388.6,452.5 L389.8,452.5 L391.0,452.5 L392.2,452.5 L393.4,452.5 L394.6,452.5 L395.8,452.5 L397.0,452.5 L398.2,452.5 L399.4,452.5 L400.6,452.5 L401.9,452.5 L403.1,452.5 L404.3,452.5 L405.5,452.5 L406.7,452.5 L407.9,452.5 L409.1,452.5 L410.3,452.5 L411.5,452.5 L412.7,452.5 L413.9,452.5 L415.1,452.5 L416.3,452.5 L417.5,452.5 L418.7,452.5 L419.9,452.5 L421.1,452.5 L422.3,452.5 L423.5,452.5 L424.7,452.5 L425.9,452.5 L427.1,452.5 L428.3,452.5 L429.5,452.5 L430.7,452.5 L431.9,452.5 L433.1,452.5 L434.3,452.5 L435.5,452.5 L436.7,452.5 L437.9,452.5 L439.1,452.5 L440.3,452.5 L441.5,452.4 L442.7,452.4 L443.9,452.4 L445.1,452.4 L446.3,452.4 L447.5,452.4 L448.7,452.4 L449.9,452.4 L451.1,452.4 L452.3,452.4 L453.5,452.4 L454.8,452.4 L456.0,452.4 L457.2,452.4 L458.4,452.4 L459.6,452.4 L460.8,452.4 L462.0,452.4 L463.2,452.4 L464.4,452.4 L465.6,452.4 L466.8,452.4 L468.0,452.4 L469.2,452.4 L470.4,452.4 L471.6,452.4 L472.8,452.4 L474.0,452.4 L475.2,452.4 L476.4,452.4 L477.6,452.4 L478.8,452.4 L480.0,452.4 L481.2,452.3 L482.4,452.2 L483.7,452.1 L484.9,452.0 L486.1,451.9 L487.3,451.8 L488.5,451.7 L489.7,451.6 L491.0,451.5 L492.2,451.4 L493.4,451.3 L494.6,451.0 L495.9,450.7 L497.1,450.3 L498.4,450.0 L499.6,449.7 L500.9,449.4 L502.1,449.0 L503.4,448.7 L504.6,448.4 L505.8,448.6 L507.1,448.9 L508.3,449.1 L509.6,449.4 L510.8,449.6 L512.1,449.9 L513.3,450.1 L514.6,450.4 L515.8,450.6 L517.0,450.6 L518.2,450.7 L519.5,450.7 L520.7,450.8 L521.9,450.8 L523.1,450.8 L524.3,450.9 L525.6,450.9 L526.8,451.0 L528.0,451.0 L529.2,451.1 L530.4,451.1 L531.7,451.1 L532.9,451.2 L534.1,451.2 L535.3,451.3 L536.5,451.3 L537.8,451.3 L539.0,451.4 L540.2,451.4 L541.4,451.5 L542.6,451.5 L543.9,451.5 L545.1,451.6 L546.3,451.6 L547.5,451.7 L548.8,451.7 L550.0,451.7 L551.2,451.8 L552.4,451.8 L553.6,451.9 L554.9,451.9 L556.1,451.9 L557.3,452.0 L558.5,452.0 L559.7,452.1 L561.0,452.1 L562.2,452.2 L563.4,452.2 L564.6,452.2 L565.8,452.3 L567.1,452.3 L568.3,452.4 L569.5,452.4 L570.7,452.3 L572.0,452.3 L573.2,452.2 L574.5,452.2 L575.7,452.1 L576.9,452.0 L578.2,452.0 L579.4,451.9 L580.6,451.8 L581.9,451.8 L583.1,451.7 L584.4,451.7 L585.6,451.6 L586.8,451.5 L588.1,451.5 L589.3,451.4 L590.5,451.3 L591.8,451.3 L593.0,451.2 L594.3,451.2 L595.5,451.1 L596.7,451.0 L598.0,451.0 L599.2,450.9 L600.4,450.8 L601.7,450.8 L602.9,450.7 L604.2,450.7 L605.4,450.6 L606.6,450.6 L607.9,450.7 L609.1,450.7 L610.3,450.8 L611.6,450.8 L612.8,450.8 L614.0,450.9 L615.3,450.9 L616.5,450.9 L617.7,451.0 L619.0,451.0 L620.2,451.1 L621.4,451.1 L622.7,451.1 L623.9,451.2 L625.2,451.2 L626.4,451.2 L627.6,451.3 L628.9,451.3 L630.1,451.4 L631.3,451.4 L632.6,451.4 L633.8,451.5 L635.0,451.5 L636.3,451.5 L637.5,451.6 L638.7,451.6 L640.0,451.7 L641.2,451.7 L642.4,451.7 L643.6,451.6 L644.9,451.6 L646.1,451.6 L647.3,451.5 L648.5,451.5 L649.7,451.5 L651.0,451.4 L652.2,451.4 L653.4,451.4 L654.6,451.3 L655.9,451.3 L657.1,451.3 L658.3,451.2 L659.5,451.2 L660.7,451.2 L662.0,451.1 L663.2,451.1 L664.4,451.1 L665.6,451.0 L666.8,451.0 L668.1,451.0 L669.3,450.9 L670.5,450.9 L671.7,450.9 L673.0,450.8 L674.2,450.8 L675.4,450.8 L676.6,450.7 L677.8,450.7 L679.1,450.7 L680.3,450.6 L681.5,450.6 L682.7,450.7 L683.9,450.8 L685.1,450.9 L686.4,451.0 L687.6,451.1 L688.8,451.2 L690.0,451.2 L691.3,451.1 L692.6,450.6 L693.9,450.3 L695.1,450.2 L696.4,449.5 L697.7,449.3 L699.0,449.3 L700.2,448.7 L701.4,448.1 L702.6,448.1 L703.8,447.6 L705.0,446.9 L706.5,444.5 L707.9,443.5 L709.4,441.5 L710.6,440.0 L711.8,438.7 L713.0,439.0 L714.2,437.0 L715.4,436.9 L716.7,437.1 L717.9,435.9 L719.2,434.8 L720.5,435.2 L721.8,434.2 L723.0,434.8 L724.3,433.5 L725.5,435.7 L726.8,436.3 L728.0,436.4 L729.3,435.6 L730.5,436.0 L731.8,439.0 L733.0,439.5 L734.3,439.9 L735.5,440.1 L736.8,440.8 L738.0,442.5 L739.3,443.1 L740.6,442.6 L741.9,442.2 L743.2,441.9 L744.5,440.1 L745.8,439.7 L747.1,440.8 L748.4,440.2 L749.7,439.6 L751.0,436.6 L752.3,435.8 L753.6,435.7 L754.9,435.4 L756.2,435.2 L757.5,432.8 L758.8,433.5 L760.1,431.2 L761.3,431.6 L762.5,433.8 L763.7,433.7 L764.9,434.2 L766.1,433.7 L767.4,434.7 L768.6,434.4 L769.9,435.5 L771.1,437.4 L772.4,438.2 L773.6,436.7 L774.8,437.3 L776.0,439.6 L777.2,439.5 L778.4,440.3 L779.6,439.4 L780.9,439.8 L782.2,439.3 L783.5,440.5 L784.8,439.4 L786.1,440.0 L787.4,440.7 L788.7,439.0 L790.0,439.4 L791.3,440.5 L792.6,441.6 L793.9,441.1 L795.2,441.7 L796.5,441.9 L797.8,443.9 L799.1,443.2 L800.4,444.0 L801.7,445.0 L803.0,445.2 L804.3,445.8 L805.5,445.6 L806.8,446.5 L808.1,446.0 L809.4,446.5 L810.6,447.0 L811.9,446.4 L813.1,446.7 L814.4,447.2 L815.6,447.2 L816.9,446.8 L818.1,446.7 L819.4,447.0 L820.6,447.4 L821.8,447.1 L823.1,446.9 L824.3,447.5 L825.6,447.4 L826.8,447.8 L828.1,447.9 L829.3,447.9 L830.6,447.5 L831.8,447.9 L833.2,447.3 L834.5,447.2 L835.9,447.2 L837.3,447.7 L838.6,447.5 L840.0,446.7 L841.3,446.6 L842.6,446.4 L843.9,446.2 L845.2,446.0 L846.5,445.7 L847.8,445.3 L849.0,445.5 L850.3,445.6 L851.6,445.1 L852.9,445.3 L854.2,444.6 L855.5,443.8 L856.8,444.5 L858.0,444.7 L859.2,443.7 L860.4,443.2 L861.6,444.0 L862.8,444.0 L864.0,444.0 L865.2,444.6 L866.4,444.1 L867.6,444.3 L868.8,443.0 L870.0,443.8 L871.2,444.2 L872.4,442.9 L873.6,442.9 L874.9,444.2 L876.2,444.6 L877.5,443.4 L878.8,444.5 L880.1,443.9 L881.4,445.0 L882.6,445.0 L883.9,444.6 L885.2,444.7 L886.5,445.7 L887.8,445.5 L889.1,446.0 L890.4,445.7 L891.6,444.9 L892.9,445.2 L894.1,444.2 L895.4,443.2 L896.6,442.7 L897.9,442.4 L899.1,441.8 L900.4,441.6 L901.7,440.3 L902.9,441.0 L904.2,440.5 L905.5,440.7 L906.7,440.4 L908.0,440.3 L909.2,440.3 L910.5,440.2 L911.8,438.4 L913.0,437.1 L914.3,436.6 L915.5,435.9 L916.8,433.6 L918.1,432.5 L919.3,430.6 L920.6,431.5 L921.8,432.3 L923.0,430.3 L924.3,429.6 L925.5,429.8 L926.7,430.5 L927.9,430.0 L929.1,432.2 L930.3,429.3 L931.6,430.1 L932.8,429.5 L934.0,431.2 L935.3,431.9 L936.5,430.3 L937.8,430.2 L939.0,431.8 L940.3,432.5 L941.6,433.9 L942.8,431.4 L944.1,431.9 L945.3,432.1 L946.5,432.1 L947.8,432.1 L949.0,433.6 L950.2,433.1 L951.4,431.8 L952.6,431.6 L953.8,431.8 L955.1,431.4 L956.3,433.2 L957.5,431.7 L958.9,430.8 L960.3,430.0 L961.7,427.2 L963.1,424.9 L964.5,425.2 L965.9,423.6 L967.2,421.6 L968.5,422.0 L969.8,423.0 L971.1,421.3 L972.5,420.2 L973.8,419.4 L975.1,422.0 L976.4,421.3 L977.7,419.7 L979.1,420.8 L980.5,421.5 L981.9,421.3 L983.3,424.3 L984.7,423.9 L986.1,423.2 L987.5,422.8 L988.9,424.6 L990.3,424.6 L991.7,426.3 L993.1,426.4 L994.5,426.4 L995.8,423.6 L997.2,422.1 L998.5,421.2 L999.9,419.6 L1001.2,420.1 L1002.5,419.0 L1003.7,419.3 L1005.0,420.5 L1006.2,418.9 L1006.2,453.0 Z" fill="#edf0f3"/>
<text x="39.449999999999996" y="470" font-size="11.5" letter-spacing="0.3" fill="#8e939c" text-anchor="middle">2011</text>
<text x="106.25" y="470" font-size="11.5" letter-spacing="0.3" fill="#8e939c" text-anchor="middle">2012</text>
<text x="172.45000000000002" y="470" font-size="11.5" letter-spacing="0.3" fill="#8e939c" text-anchor="middle">2013</text>
<text x="239.25" y="470" font-size="11.5" letter-spacing="0.3" fill="#8e939c" text-anchor="middle">2014</text>
<text x="305.75" y="470" font-size="11.5" letter-spacing="0.3" fill="#8e939c" text-anchor="middle">2015</text>
<text x="373.15" y="470" font-size="11.5" letter-spacing="0.3" fill="#8e939c" text-anchor="middle">2016</text>
<text x="440.15" y="470" font-size="11.5" letter-spacing="0.3" fill="#8e939c" text-anchor="middle">2017</text>
<text x="507.34999999999997" y="470" font-size="11.5" letter-spacing="0.3" fill="#8e939c" text-anchor="middle">2018</text>
<text x="573.55" y="470" font-size="11.5" letter-spacing="0.3" fill="#8e939c" text-anchor="middle">2019</text>
<text x="639.55" y="470" font-size="11.5" letter-spacing="0.3" fill="#8e939c" text-anchor="middle">2020</text>
<text x="706.65" y="470" font-size="11.5" letter-spacing="0.3" fill="#8e939c" text-anchor="middle">2021</text>
<text x="772.9499999999999" y="470" font-size="11.5" letter-spacing="0.3" fill="#8e939c" text-anchor="middle">2022</text>
<text x="840.85" y="470" font-size="11.5" letter-spacing="0.3" fill="#8e939c" text-anchor="middle">2023</text>
<text x="907.85" y="470" font-size="11.5" letter-spacing="0.3" fill="#8e939c" text-anchor="middle">2024</text>
<text x="975.15" y="470" font-size="11.5" letter-spacing="0.3" fill="#8e939c" text-anchor="middle">2025</text>
<rect x="999.5" y="424" width="13" height="18.5" rx="6.5" fill="#fff" filter="url(#sh)"/>
<line x1="1004.5" y1="429" x2="1004.5" y2="437.5" stroke="#9aa3b2" stroke-width="1"/>
<line x1="1007.5" y1="429" x2="1007.5" y2="437.5" stroke="#9aa3b2" stroke-width="1"/>
</svg></body></html>
